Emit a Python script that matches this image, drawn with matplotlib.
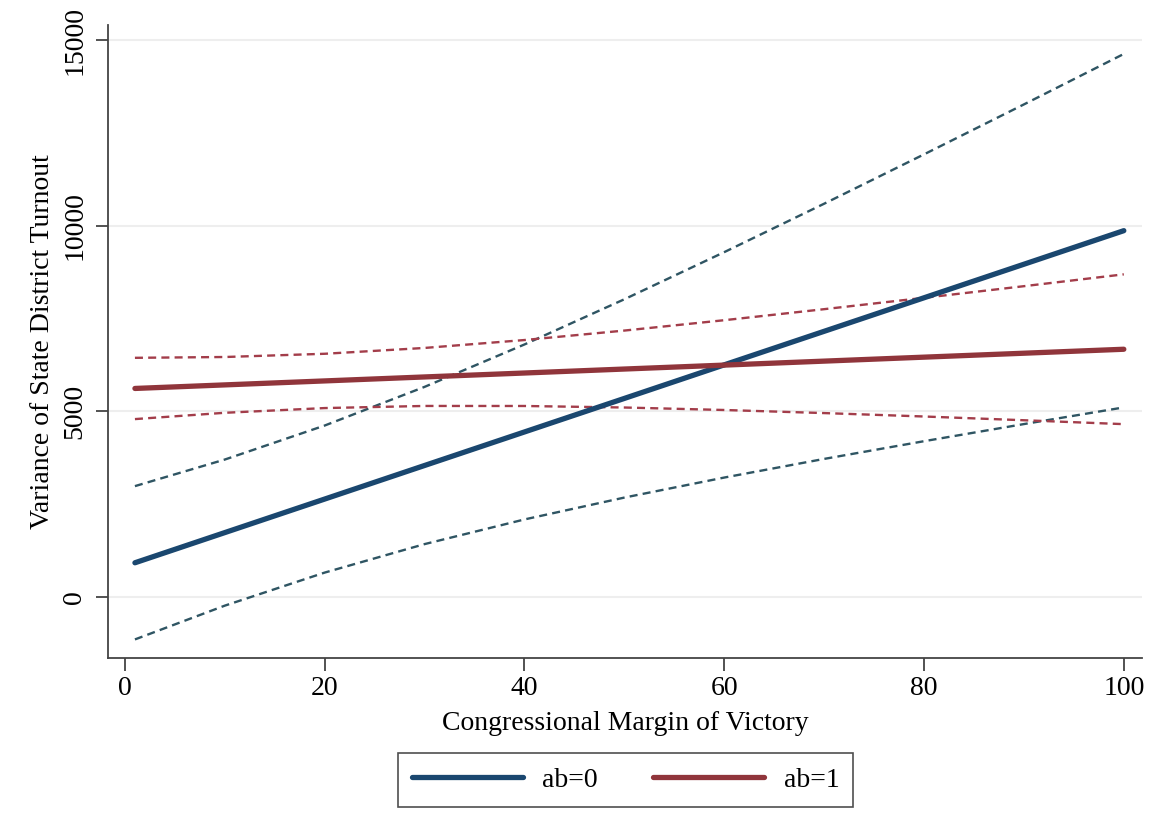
import matplotlib
matplotlib.use("Agg")
import matplotlib.pyplot as plt

# Data
x = [1, 10, 20, 30, 40, 50, 60, 70, 80, 90, 100]
ab0_fit = [923, 1736, 2639, 3543, 4446, 5349, 6253, 7156, 8059, 8962, 9866]
ab0_hi = [2987, 3703, 4619, 5660, 6802, 8019, 9288, 10592, 11921, 13266, 14625]
ab0_lo = [-1141, -231, 659, 1426, 2090, 2679, 3218, 3720, 4197, 4658, 5107]
ab1_fit = [5617, 5713, 5820, 5927, 6033, 6140, 6246, 6353, 6460, 6566, 6673]
ab1_hi = [6442, 6464, 6551, 6708, 6921, 7176, 7455, 7752, 8058, 8371, 8690]
ab1_lo = [4792, 4962, 5089, 5146, 5145, 5104, 5037, 4954, 4862, 4761, 4656]

xticks = [0, 20, 40, 60, 80, 100]
yticks = [0, 5000, 10000, 15000]
labels = ["ab=0", "ab=1"]

plt.rcParams['font.family'] = ['Liberation Serif', 'DejaVu Serif']

fig = plt.figure(figsize=(11.51, 8.15), dpi=100)
ax = fig.add_axes([0.0938, 0.1926, 0.8982, 0.7764])

blue = '#1a476f'
red = '#90353b'
blue_ci = '#2f5563'
red_ci = '#a33d4a'
dash = (0, (3.4, 2.2))

for yt in yticks:
    ax.axhline(yt, color='#eeeeee', lw=1.5, zorder=0)

ax.plot(x, ab0_hi, color=blue_ci, lw=1.7, ls=dash)
ax.plot(x, ab0_lo, color=blue_ci, lw=1.7, ls=dash)
ax.plot(x, ab1_hi, color=red_ci, lw=1.7, ls=dash)
ax.plot(x, ab1_lo, color=red_ci, lw=1.7, ls=dash)
l0, = ax.plot(x, ab0_fit, color=blue, lw=3.8, solid_capstyle='round')
l1, = ax.plot(x, ab1_fit, color=red, lw=3.8, solid_capstyle='round')

ax.set_xlim(-1.7, 101.8)
ax.set_ylim(-1642, 15397)
ax.set_xticks(xticks)
ax.set_yticks(yticks)
ax.set_yticklabels([str(v) for v in yticks], rotation=90, va='center')
ax.tick_params(axis='both', direction='out', length=9, width=1.3, color='#444444',
               labelsize=20, pad=6)
ax.tick_params(axis='x', pad=4)
for s in ['top', 'right']:
    ax.spines[s].set_visible(False)
for s in ['left', 'bottom']:
    ax.spines[s].set_color('#444444')
    ax.spines[s].set_linewidth(1.3)

ax.set_xlabel('Congressional Margin of Victory', fontsize=20, labelpad=7)
ax.set_ylabel('Variance of State District Turnout', fontsize=20, labelpad=5)

leg = fig.legend([l0, l1], labels, loc='center', bbox_to_anchor=(0.5435, 0.043),
                 ncol=2, fontsize=20, frameon=True, fancybox=False,
                 edgecolor='#222222', handlelength=4.0, columnspacing=2.0,
                 handletextpad=0.7, borderpad=0.5)
leg.get_frame().set_linewidth(1.2)

fig.savefig('out.png', dpi=100)
